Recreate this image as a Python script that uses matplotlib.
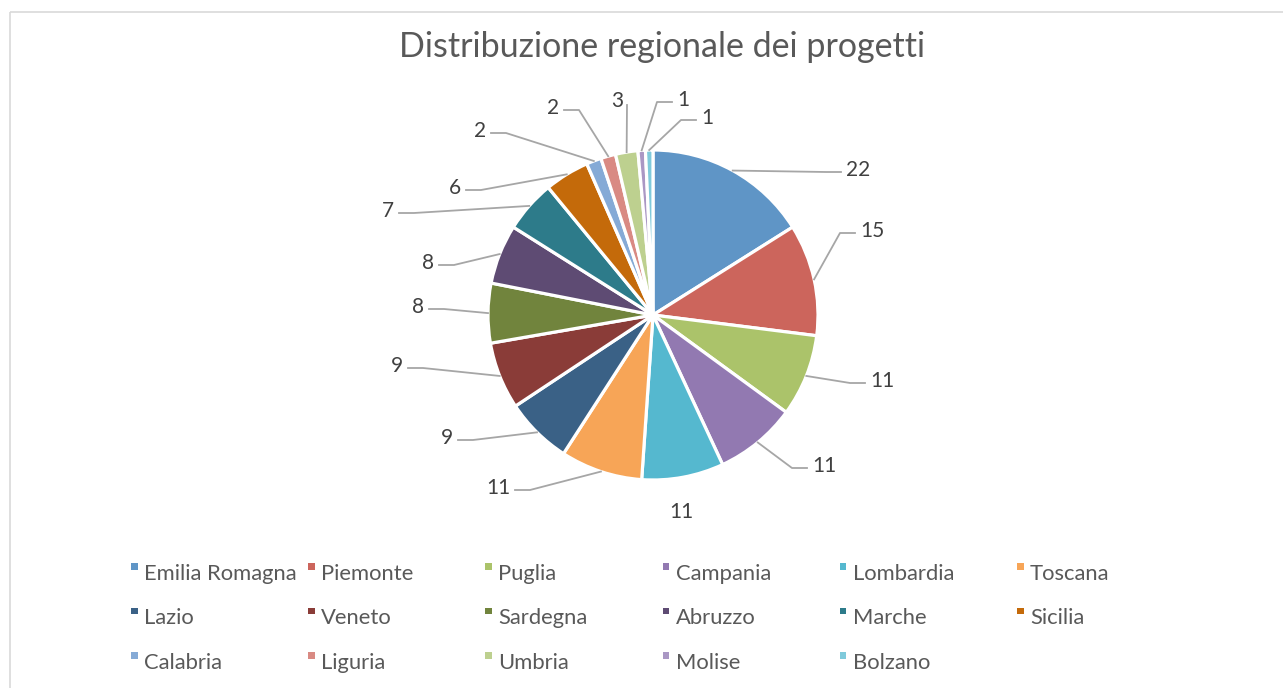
import matplotlib
matplotlib.use('Agg')
import matplotlib.pyplot as plt
from matplotlib.patches import Rectangle
import numpy as np

regions = ['Emilia Romagna', 'Piemonte', 'Puglia', 'Campania', 'Lombardia', 'Toscana',
           'Lazio', 'Veneto', 'Sardegna', 'Abruzzo', 'Marche', 'Sicilia',
           'Calabria', 'Liguria', 'Umbria', 'Molise', 'Bolzano']
projects = [22, 15, 11, 11, 11, 11, 9, 9, 8, 8, 7, 6, 2, 2, 3, 1, 1]
colors = ['#5F95C6', '#CC655C', '#ABC36A', '#9279B1', '#55B8CF', '#F7A557',
          '#3A6186', '#8A3C38', '#71843D', '#5E4B73', '#2D7B8A', '#C46A0A',
          '#85AAD6', '#D98A83', '#BDD08F', '#AA97C4', '#7FCADB']

# layout of the data labels (pixel coords) and how the leader line joins them
label_pos = [(858, 170), (872, 231), (882, 381), (824, 466), (681, 512), (498, 488),
             (447, 438), (397, 366), (418, 307), (428, 263), (388, 211), (455, 188),
             (480, 131), (553, 108), (617, 101), (683, 100), (707, 118)]
leader = ['l', 'l', 'l', 'l', 'n', 'r', 'r', 'r', 'r', 'r', 'r', 'r',
          'r', 'r', 'v', 'l', 'l']

W, H = 1283, 688
CX, CY, R = 653, 315, 165

plt.rcParams['font.family'] = ['Lato', 'DejaVu Sans']

fig = plt.figure(figsize=(W / 100, H / 100), dpi=100)
ax = fig.add_axes([0, 0, 1, 1])

# chart border
ax.add_patch(Rectangle((10, 12), W + 20, H + 20, fill=False, edgecolor='#D9D9D9', lw=1.2))

ax.text(662, 47, 'Distribuzione regionale dei progetti', ha='center', va='center',
        fontsize=24.5, color='#595959')

wedges, _ = ax.pie(projects, colors=colors, startangle=-90, counterclock=True,
                   center=(CX, CY), radius=R, frame=True,
                   wedgeprops=dict(edgecolor='white', linewidth=2.3))
ax.set_xlim(0, W)
ax.set_ylim(H, 0)
ax.set_aspect('equal')
ax.axis('off')

line_kw = dict(color='#A6A6A6', lw=1.3, zorder=1)
for w, v, (lx, ly), side in zip(wedges, projects, label_pos, leader):
    ax.text(lx, ly, str(v), ha='center', va='center', fontsize=15, color='#404040')
    mid = np.deg2rad((w.theta1 + w.theta2) / 2)
    ex, ey = CX + R * np.cos(mid), CY + R * np.sin(mid)
    half = 6 * len(str(v))
    if side == 'l':
        x0 = lx - half - 5
        ax.plot([x0, x0 - 15, ex], [ly + 2, ly + 2, ey], **line_kw)
    elif side == 'r':
        x0 = lx + half + 5
        ax.plot([x0, x0 + 15, ex], [ly + 2, ly + 2, ey], **line_kw)
    elif side == 'v':
        ax.plot([lx + 10, ex], [ly + 4, ey], **line_kw)

# legend, 6 columns
for i, (name, c) in enumerate(zip(regions, colors)):
    col, row = i % 6, i // 6
    mx = 131 + col * 177.2
    my = 573 + row * 44.5
    ax.add_patch(Rectangle((mx, my - 10), 6.5, 6.5, facecolor=c, edgecolor='none'))
    ax.text(mx + 13, my + 1, name, ha='left', va='center', fontsize=15.8, color='#595959')

fig.savefig('out.png', dpi=100)
